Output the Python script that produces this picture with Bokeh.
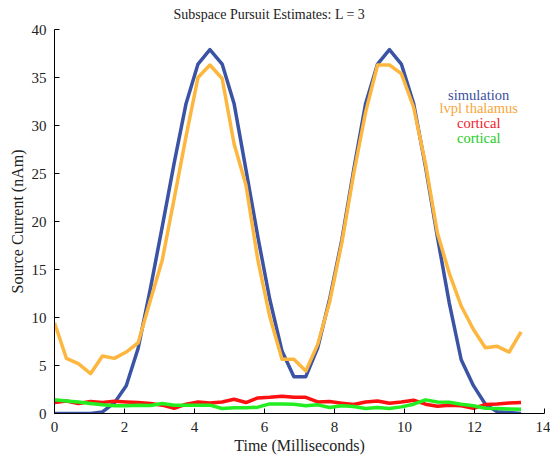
from bokeh.plotting import figure
from bokeh.models import Range1d, Label, FixedTicker
from bokeh.embed import file_html
from bokeh.resources import INLINE

# --- data ---
time_ms = [0.00, 0.34, 0.68, 1.03, 1.37, 1.71, 2.05, 2.39, 2.74, 3.08,
           3.42, 3.76, 4.10, 4.44, 4.79, 5.13, 5.47, 5.81, 6.15, 6.50,
           6.84, 7.18, 7.52, 7.86, 8.21, 8.55, 8.89, 9.23, 9.57, 9.91,
           10.26, 10.60, 10.94, 11.28, 11.62, 11.97, 12.31, 12.65, 12.99, 13.33]
simulation = [0, 0, 0, 0, 0.17, 1.1, 2.9, 6.8, 13.0, 19.5,
              26.1, 32.3, 36.4, 37.9, 36.4, 32.3, 25.4, 18.4, 11.9, 6.5,
              3.84, 3.84, 6.85, 11.9, 18.1, 25.4, 32.3, 36.4, 37.9, 36.4,
              32.3, 25.7, 18.4, 11.5, 5.6, 2.9, 0.97, 0.17, 0.1, 0.0]
lvpl_thalamus = [9.45, 5.74, 5.19, 4.15, 5.98, 5.74, 6.4, 7.37, 11.8, 16.0,
                 22.4, 28.9, 35.0, 36.3, 34.9, 28.1, 23.8, 16.0, 10.1, 5.64,
                 5.64, 4.43, 7.2, 11.6, 17.8, 25.0, 31.4, 36.3, 36.3, 35.4,
                 31.9, 26.0, 18.8, 14.6, 11.2, 8.75, 6.85, 7.0, 6.4, 8.5]
cortical_red = [1.14, 1.31, 1.04, 1.25, 1.14, 1.28, 1.2, 1.14, 1.04, 0.87,
                0.55, 0.97, 1.2, 1.1, 1.2, 1.49, 1.14, 1.62, 1.69, 1.8,
                1.69, 1.69, 1.2, 1.24, 1.07, 0.93, 1.2, 1.31, 1.07, 1.2,
                1.38, 0.97, 0.76, 0.86, 0.8, 0.55, 0.93, 1.0, 1.1, 1.14]
cortical_green = [1.42, 1.31, 1.2, 1.04, 0.9, 0.8, 0.8, 0.87, 0.83, 1.04,
                  0.87, 0.87, 0.87, 0.87, 0.52, 0.59, 0.59, 0.66, 1.0, 1.0,
                  0.97, 0.8, 0.9, 0.62, 0.8, 0.73, 0.52, 0.62, 0.52, 0.69,
                  0.97, 1.42, 1.2, 1.17, 0.97, 0.8, 0.55, 0.52, 0.48, 0.45]
series_names = ["simulation", "lvpl thalamus", "cortical", "cortical"]
title_text = "Subspace Pursuit Estimates: L = 3"
x_ticks = [0, 2, 4, 6, 8, 10, 12, 14]
y_ticks = [0, 5, 10, 15, 20, 25, 30, 35, 40]

colors = ["#3A53A4", "#FDB73F", "#FF1010", "#22EE22"]
text_colors = ["#3A4F9C", "#F9A53A", "#F0202A", "#22CC22"]
FONT = "Liberation Serif"

p = figure(width=550, height=456, output_backend="svg", toolbar_location=None,
           x_range=Range1d(0, 14), y_range=Range1d(0, 40),
           min_border_left=54, min_border_right=6, min_border_top=29,
           min_border_bottom=42)
p.outline_line_color = None
p.grid.visible = False
p.background_fill_color = "white"

p.title.text = title_text
p.title.text_font = FONT
p.title.text_font_size = "14px"
p.title.text_font_style = "normal"
p.title.text_color = "#222222"
p.title.align = "left"
p.title.offset = 119
p.title.standoff = 11
p.title.vertical_align = "top"

for ax in (p.xaxis[0], p.yaxis[0]):
    ax.major_tick_in = 5
    ax.major_tick_out = 0
    ax.minor_tick_line_color = None
    ax.axis_line_color = "black"
    ax.major_tick_line_color = "black"
    ax.major_label_text_font = FONT
    ax.major_label_text_font_size = "15px"
    ax.major_label_text_color = "#222222"
    ax.axis_label_text_font = FONT
    ax.axis_label_text_font_size = "16px"
    ax.axis_label_text_font_style = "normal"
    ax.axis_label_text_color = "#222222"

p.xaxis.ticker = FixedTicker(ticks=x_ticks)
p.yaxis.ticker = FixedTicker(ticks=y_ticks)
p.xaxis.axis_label = "Time (Milliseconds)"
p.yaxis.axis_label = "Source Current (nAm)"
p.xaxis.major_label_standoff = 8
p.yaxis.major_label_standoff = 8
p.xaxis.axis_label_standoff = 2
p.yaxis.axis_label_standoff = 3

all_series = [simulation, lvpl_thalamus, cortical_red, cortical_green]
for ys, c in zip(all_series, colors):
    p.line(time_ms, ys, line_color=c, line_width=3.5, line_join="round")

# text-only legend (MATLAB style)
legend_x = 12.12
legend_y = [33.2, 31.85, 30.25, 28.7]
for name, tc, ly in zip(series_names, text_colors, legend_y):
    p.add_layout(Label(x=legend_x, y=ly, text=name, text_color=tc,
                       text_font=FONT, text_font_size="14.5px",
                       text_align="center", text_baseline="middle"))

open("out.html", "w").write(file_html(p, INLINE))
